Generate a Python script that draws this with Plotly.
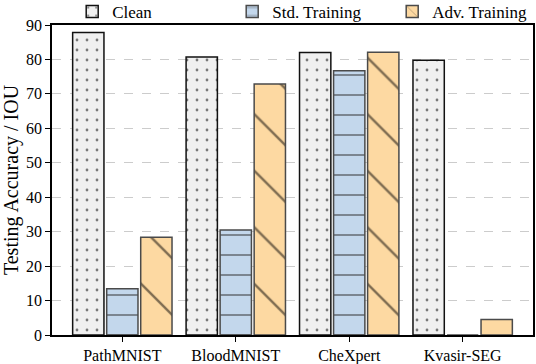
import plotly.graph_objects as go

datasets = ["PathMNIST", "BloodMNIST", "CheXpert", "Kvasir-SEG"]
clean = [87.8, 80.7, 82.0, 79.8]
std_training = [13.4, 30.5, 76.7, 0.0]
adv_training = [28.4, 72.9, 82.1, 4.5]

fig = go.Figure()
fig.add_trace(go.Bar(
    x=datasets, y=clean, name="Clean",
    marker=dict(color="#f0f0f0", line=dict(color="#111111", width=1.5),
                pattern=dict(shape=".", size=10, solidity=0.06, fgcolor="black", fillmode="overlay")),
))
fig.add_trace(go.Bar(
    x=datasets, y=std_training, name="Std. Training",
    marker=dict(color="#c3d7ec", line=dict(color="#4a4a4a", width=1.5),
                pattern=dict(shape="-", size=20, solidity=0.1, fgcolor="#333333", fillmode="overlay")),
))
fig.add_trace(go.Bar(
    x=datasets, y=adv_training, name="Adv. Training",
    marker=dict(color="#fdd9a2", line=dict(color="#4a4a4a", width=1.5),
                pattern=dict(shape="\\", size=40, solidity=0.06, fgcolor="black", fillmode="overlay")),
))

fig.update_layout(
    width=536, height=364,
    barmode="group", bargap=0.1, bargroupgap=0.08,
    margin=dict(l=52, r=3, t=25, b=29, autoexpand=False),
    plot_bgcolor="white", paper_bgcolor="white",
    font=dict(family="'Liberation Serif', 'Times New Roman', serif", size=16, color="black"),
    legend=dict(orientation="h", x=0.042, xanchor="left", yref="container", y=0.967, yanchor="middle",
                entrywidth=115, font=dict(size=17), bgcolor="rgba(0,0,0,0)"),
    xaxis=dict(range=[-0.62, 3.62], showline=True, linecolor="black", linewidth=1.5,
               mirror=True, ticks="outside", ticklen=5, tickcolor="black", automargin=False),
    yaxis=dict(range=[0, 90], dtick=10, showline=True, linecolor="black", linewidth=1.5,
               mirror=True, ticks="outside", ticklen=5, tickcolor="black", automargin=False,
               showgrid=True, gridcolor="#cccccc", griddash="dash", gridwidth=1,
               title=dict(text="Testing Accuracy / IOU", font=dict(size=20), standoff=3)),
)

fig.write_html("out.html", config={"displayModeBar": False},
               post_script="document.body.style.margin='0';")
